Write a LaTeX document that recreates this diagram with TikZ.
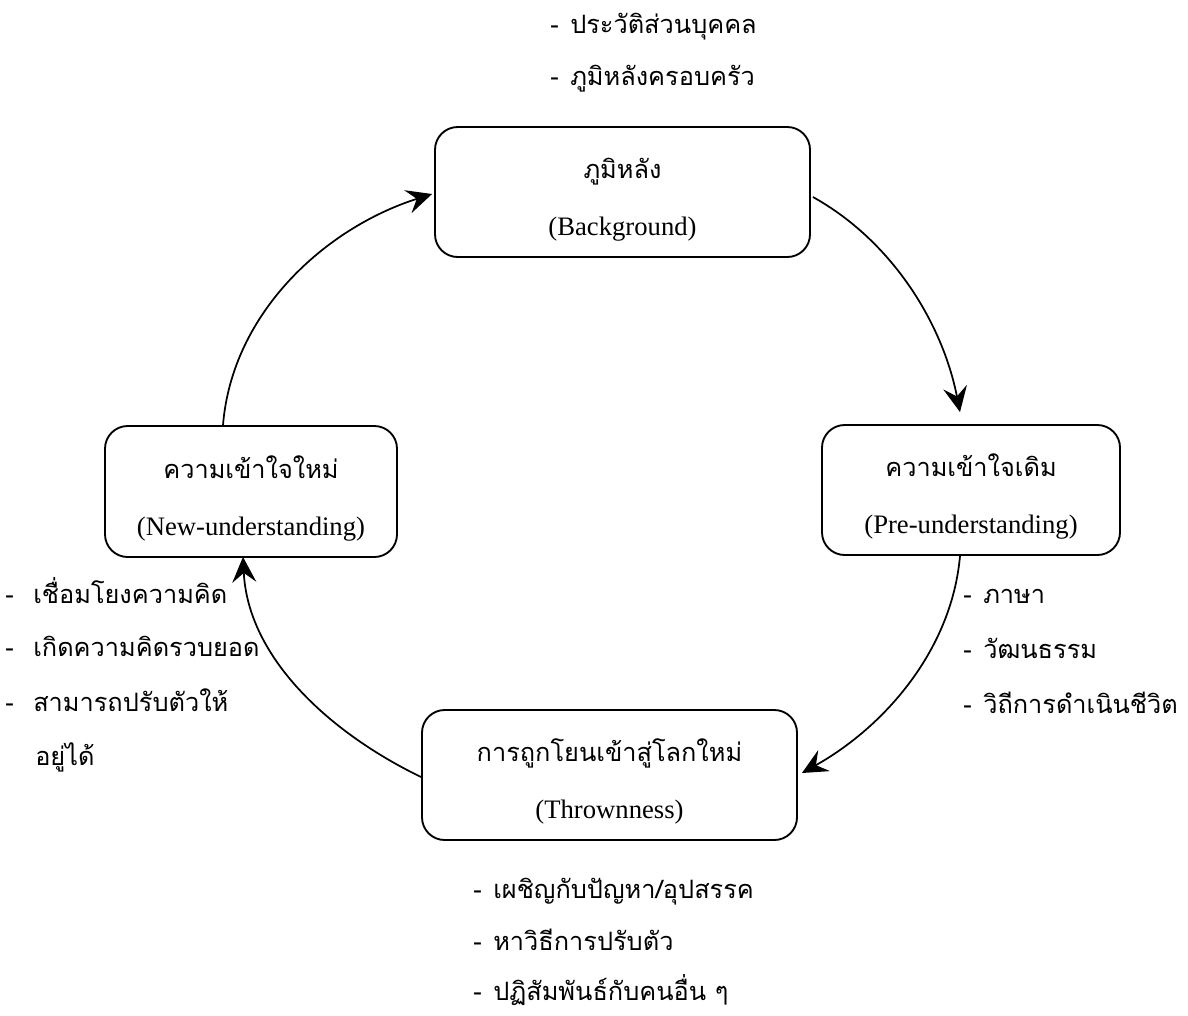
\documentclass[tikz,border=0pt]{standalone}
\usepackage{fontspec}
\setmainfont{Liberation Serif}
\newfontfamily\thai[Script=Thai]{Loma}
\usetikzlibrary{arrows.meta}

% list entry: a dash followed by the text
\newcommand\dashitem[2][15pt]{\makebox[#1][l]{-}#2}

\begin{document}
\begin{tikzpicture}[x=0.75pt,y=-0.75pt,
  stagebox/.style={draw, line width=1.4pt, rounded corners=17pt, inner sep=0pt},
  thline/.style={anchor=base, inner sep=0pt, font=\thai\fontsize{19}{23}\selectfont},
  enline/.style={anchor=base, inner sep=0pt, font=\fontsize{20}{24}\selectfont},
  listline/.style={anchor=base west, inner sep=0pt, font=\thai\fontsize{19}{23}\selectfont},
  flow/.style={-{Stealth[length=19pt,width=18pt,inset=7pt]}, line width=1.3pt},
]
\useasboundingbox (0,0) rectangle (1188,1015);

% the four stages
\node[stagebox, minimum width=281.25pt, minimum height=97.5pt] (bg)  at (622.5,192) {};
\node[stagebox, minimum width=223.5pt,  minimum height=97.5pt] (pre) at (971,490) {};
\node[stagebox, minimum width=219pt,    minimum height=98.25pt] (new) at (251,491.5) {};
\node[stagebox, minimum width=281.25pt, minimum height=97.5pt] (thr) at (609.5,775) {};

% stage titles
\node[thline] (bgTh)  at (622.5,178.5) {ภูมิหลัง};
\node[enline] (bgEn)  at (622.5,235.5) {(Background)};
\node[thline] (preTh) at (971,476.5) {ความเข้าใจเดิม};
\node[enline] (preEn) at (971,533.5) {(Pre-understanding)};
\node[thline] (newTh) at (251,478) {ความเข้าใจใหม่};
\node[enline] (newEn) at (251,535) {(New-understanding)};
\node[thline] (thrTh) at (609.5,761.5) {การถูกโยนเข้าสู่โลกใหม่};
\node[enline] (thrEn) at (609.5,818.5) {(Thrownness)};

% notes beside each stage
\node[listline] (bg1) at (550,33) {\dashitem{ประวัติส่วนบุคคล}};
\node[listline] (bg2) at (550,85) {\dashitem{ภูมิหลังครอบครัว}};

\node[listline] (pre1) at (963,603) {\dashitem{ภาษา}};
\node[listline] (pre2) at (963,658) {\dashitem{วัฒนธรรม}};
\node[listline] (pre3) at (963,713) {\dashitem{วิถีการดำเนินชีวิต}};

\node[listline] (new1) at (5,603) {\dashitem[21pt]{เชื่อมโยงความคิด}};
\node[listline] (new2) at (5,656) {\dashitem[21pt]{เกิดความคิดรวบยอด}};
\node[listline] (new3) at (5,711) {\dashitem[21pt]{สามารถปรับตัวให้}};
\node[listline] (new4) at (35,765) {อยู่ได้};

\node[listline] (thr1) at (473,898) {\dashitem{เผชิญกับปัญหา/อุปสรรค}};
\node[listline] (thr2) at (473,950) {\dashitem{หาวิธีการปรับตัว}};
\node[listline] (thr3) at (473,1000) {\dashitem{ปฏิสัมพันธ์กับคนอื่น ๆ}};

% the cycle
\draw[flow] ([shift={(2,5)}]bg.east) .. controls (892,241) and (942.5,323) .. ([shift={(-11,-12)}]pre.north);
\draw[flow] ([shift={(-11,0)}]pre.south) .. controls (951.7,650) and (884.6,726.7) .. ([shift={(4,-2)}]thr.east);
\draw[flow] ([shift={(0,2)}]thr.west) .. controls (330,733) and (248,658) .. ([shift={(-8,-1)}]new.south);
\draw[flow] ([shift={(-28,0)}]new.north) .. controls (232,313) and (325,228) .. ([shift={(-2,2)}]bg.west);
\end{tikzpicture}
\end{document}
